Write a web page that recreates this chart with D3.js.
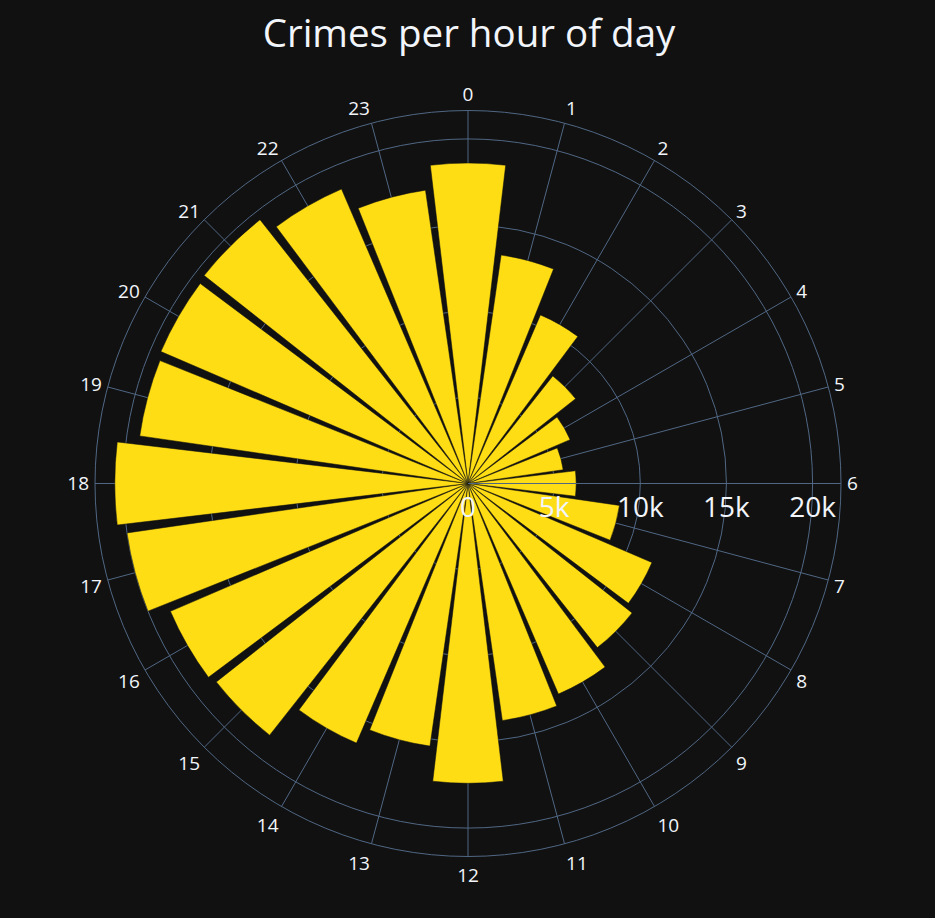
<!DOCTYPE html>
<html>
<head>
<meta charset="utf-8">
<script src="https://cdn.jsdelivr.net/npm/d3@7"></script>
<style>
  html, body { margin: 0; padding: 0; background: #111111; }
  svg { display: block; }
</style>
</head>
<body>
<div id="vis"></div>
<script>
// data (number of crimes per hour)
var hours = ['0', '1', '2', '3', '4', '5', '6', '7', '8', '9', '10', '11',
  '12', '13', '14', '15', '16', '17', '18', '19', '20', '21', '22', '23'];
var crimes = [18600, 13400, 10650, 7950, 6450, 5580, 6280, 8880, 11620, 12130, 13300, 13900,
  17400, 15400, 16400, 18600, 18800, 20000, 20500, 19250, 19400, 19500, 18600, 17200];
var radialTicks = [0, 5000, 10000, 15000, 20000];
var title = 'Crimes per hour of day';

var width = 935;
var height = 918;
var cx = 468, cy = 483.5;
var outer = 373;

var textColor = '#f2f5fa';
var gridColor = '#506784';
var barColor = '#ffdd14';
var font = '"Open Sans", Verdana, Arial, sans-serif';

var svg = d3.select('#vis').append('svg')
  .attr('width', width)
  .attr('height', height)
  .style('background', '#111111');

// radial scale, the axis range runs a bit past the tallest bar
var r = d3.scaleLinear()
  .domain([0, 21650])
  .range([0, outer]);

// angle in degrees, 0 at top, clockwise
var angle = d3.scaleLinear()
  .domain([0, hours.length])
  .range([0, 360]);

var step = 360 / hours.length;
var bargap = 0.1;

var g = svg.append('g')
  .attr('transform', 'translate(' + cx + ',' + cy + ')');

function rad(deg) { return deg * Math.PI / 180; }

// grid circles
g.selectAll('.grid-circle')
  .data(radialTicks.filter(function(d) { return d > 0; }))
  .enter().append('circle')
  .attr('class', 'grid-circle')
  .attr('r', function(d) { return r(d); })
  .attr('fill', 'none')
  .attr('stroke', gridColor)
  .attr('stroke-width', 1);

// angular grid lines
g.selectAll('.grid-spoke')
  .data(hours)
  .enter().append('line')
  .attr('class', 'grid-spoke')
  .attr('x1', 0).attr('y1', 0)
  .attr('x2', function(d, i) { return outer * Math.sin(rad(angle(i))); })
  .attr('y2', function(d, i) { return -outer * Math.cos(rad(angle(i))); })
  .attr('stroke', gridColor)
  .attr('stroke-width', 1);

// outer circle (angular axis line)
g.append('circle')
  .attr('r', outer)
  .attr('fill', 'none')
  .attr('stroke', gridColor)
  .attr('stroke-width', 1);

// bars
var arc = d3.arc()
  .innerRadius(0)
  .outerRadius(function(d) { return r(d.value); })
  .startAngle(function(d) { return rad(angle(d.i) - step * (1 - bargap) / 2); })
  .endAngle(function(d) { return rad(angle(d.i) + step * (1 - bargap) / 2); });

g.selectAll('.bar')
  .data(crimes.map(function(v, i) { return { i: i, value: v }; }))
  .enter().append('path')
  .attr('class', 'bar')
  .attr('d', arc)
  .attr('fill', barColor)
  .attr('stroke', '#111111')
  .attr('stroke-width', 0.5);

// radial axis line, drawn above the bars
g.append('line')
  .attr('x1', 0).attr('y1', 0)
  .attr('x2', outer).attr('y2', 0)
  .attr('stroke', gridColor)
  .attr('stroke-width', 1);

// radial tick labels
g.selectAll('.rtick')
  .data(radialTicks)
  .enter().append('text')
  .attr('class', 'rtick')
  .attr('x', function(d) { return r(d); })
  .attr('y', 33)
  .attr('text-anchor', 'middle')
  .attr('font-family', font)
  .attr('font-size', 28)
  .attr('fill', textColor)
  .text(d3.format('~s'));

// angular tick labels (placed the way plotly does it)
var fs = 19, pad = 6;
g.selectAll('.atick')
  .data(hours)
  .enter().append('text')
  .attr('class', 'atick')
  .each(function(d, i) {
    var a = rad(90 - angle(i)); // math angle
    var c = Math.cos(a), s = Math.sin(a);
    var x = outer * c + pad * c;
    var ff = s > 0 ? 0.2 : 1;
    var y = -outer * s - s * (pad + fs * ff) + Math.abs(c) * fs * 0.35;
    var anchor = Math.abs(c) < 0.1 ? 'middle' : (c > 0 ? 'start' : 'end');
    d3.select(this)
      .attr('x', x)
      .attr('y', y)
      .attr('text-anchor', anchor);
  })
  .attr('font-family', font)
  .attr('font-size', fs)
  .attr('fill', textColor)
  .text(function(d) { return d; });

// title
svg.append('text')
  .attr('x', 469)
  .attr('y', 47)
  .attr('text-anchor', 'middle')
  .attr('font-family', font)
  .attr('font-size', 38.5)
  .attr('fill', textColor)
  .text(title);
</script>
</body>
</html>
